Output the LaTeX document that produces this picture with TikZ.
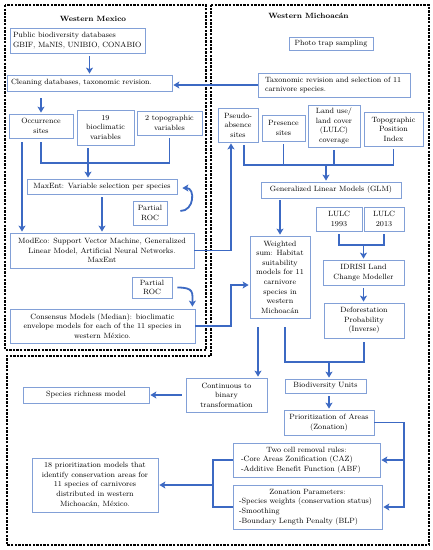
\documentclass[tikz,border=0pt]{standalone}
\usepackage{fontspec}
\usetikzlibrary{arrows.meta}
\definecolor{boxc}{RGB}{130,160,215}
\definecolor{arrc}{RGB}{60,105,195}
\newcommand{\fs}{\fontsize{7.6}{9.6}\selectfont}
\begin{document}
\begin{tikzpicture}[x=1pt,y=-1pt,
 bx/.style={draw=boxc, line width=0.8pt, inner sep=1pt, align=center, font=\fs},
 sz/.style 2 args={minimum width=#1pt, minimum height=#2pt},
 ln/.style={draw=arrc, line width=1.8pt},
 arr/.style={ln, -{Stealth[length=6pt,width=7pt,inset=1.5pt]}, shorten >=1pt},
 frame/.style={draw=black, line width=1.2pt, dash pattern=on 2.4pt off 1.2pt},
 ttl/.style={font=\fs\bfseries, inner sep=0pt}]
\useasboundingbox (0,0) rectangle (432,550);
\fill[white] (0,0) rectangle (432,550);
% frames
\draw[frame] (5,5) rectangle (206,350);
\draw[frame] (211,5) -- (429,5) -- (429,545) -- (7,545) -- (7,356) -- (211,356) -- cycle;
% titles
\node[ttl] (tmex) at (93,19) {Western Mexico};
\node[ttl] (tmich) at (308.5,16) {Western Michoacán};
% Western Mexico
\node[bx, sz={135}{25}, text width=129pt, inner xsep=3pt, align=left] (pub) at (77.5,40.5) {Public biodiversity databases\\GBIF, MaNIS, UNIBIO, CONABIO};
\node[bx, sz={165}{16}, text width=157pt, inner xsep=4pt, align=left] (clean) at (89.5,83) {Cleaning databases, taxonomic revision.};
\node[bx, sz={64}{24}] (occ) at (41,126) {Occurrence\\sites};
\node[bx, sz={57}{35}] (bio) at (105.5,127.5) {19\\bioclimatic\\variables};
\node[bx, sz={65}{24}] (topo) at (169.5,123) {2 topographic\\variables};
\node[bx, sz={150}{15}] (maxent) at (102,186.5) {MaxEnt: Variable selection per species};
\node[bx, sz={34}{24}] (roc1) at (150,213) {Partial\\ROC};
\node[bx, sz={184}{35}] (modeco) at (102,250.5) {ModEco: Support Vector Machine, Generalized\\Linear Model, Artificial Neural Networks.\\MaxEnt};
\node[bx, sz={40}{21}] (roc2) at (152,287.5) {Partial\\ROC};
\node[bx, sz={185}{34}] (cons) at (102.5,326) {Consensus Models (Median): bioclimatic\\envelope models for each of the 11 species in\\western México.};
% Western Michoacan
\node[bx, sz={84}{13}] (photo) at (331,43.5) {Photo trap sampling};
\node[bx, sz={152}{24}, text width=138pt, inner xsep=7pt, align=left] (taxo) at (334,85) {Taxonomic revision and selection of 11\\carnivore species.};
\node[bx, sz={40}{34}] (pseudo) at (238,125) {Pseudo-\\absence\\sites};
\node[bx, sz={43}{26}] (pres) at (283.5,128) {Presence\\sites};
\node[bx, sz={52}{42}] (lulc) at (334,126) {Land use/\\land cover\\(LULC)\\coverage};
\node[bx, sz={59}{34}] (tpi) at (393.5,129) {Topographic\\Position\\Index};
\node[bx, sz={140}{16}] (glm) at (331,190) {Generalized Linear Models (GLM)};
\node[bx, sz={60}{82}] (ws) at (280,277) {Weighted\\sum: Habitat\\suitability\\models for 11\\carnivore\\species in\\western\\Michoacán};
\node[bx, sz={46}{24}] (l93) at (339,219) {LULC\\1993};
\node[bx, sz={40}{24}] (l13) at (384,219) {LULC\\2013};
\node[bx, sz={81}{25}] (idrisi) at (363.5,272.5) {IDRISI Land\\Change Modeller};
\node[bx, sz={80}{35}] (defo) at (364,320.5) {Deforestation\\Probability\\(Inverse)};
\node[bx, sz={81}{34}] (cont) at (226.5,395) {Continuous to\\binary\\transformation};
\node[bx, sz={126}{16}] (rich) at (86,395) {Species richness model};
\node[bx, sz={81}{14}] (bu) at (325.5,386) {Biodiversity Units};
\node[bx, sz={90}{25}] (prio) at (329,422.5) {Prioritization of Areas\\(Zonation)};
\node[bx, sz={147}{34}, text width=131pt, inner xsep=8pt, align=left] (two) at (306.5,460) {\makebox[\linewidth]{Two cell removal rules:}\\-Core Areas Zonification (CAZ)\\-Additive Benefit Function (ABF)};
\node[bx, sz={149}{44}, text width=137pt, inner xsep=6pt, align=left] (zon) at (307.5,507) {\makebox[\linewidth]{Zonation Parameters:}\\-Species weights (conservation status)\\-Smoothing\\-Boundary Length Penalty (BLP)};
\node[bx, sz={126}{54}] (eighteen) at (95,485) {18 prioritization models that\\identify conservation areas for\\11 species of carnivores\\distributed in western\\Michoacán, México.};
% helper coordinates
\coordinate (mj) at (88,163);
\coordinate (pj) at (231,250);
\coordinate (pa) at (244,165);
\coordinate (gj) at (326,165);
\coordinate (wsin) at ([shift={(0,8)}]ws.west);
\coordinate (lj) at (363.5,245);
\coordinate (bj) at (329,362);
\coordinate (wb) at ([shift={(5,0)}]ws.south);
\coordinate (wc) at ([shift={(-22,0)}]ws.south);
\coordinate (rj) at (404,424);
\coordinate (lj2) at (213,485);
\coordinate (oa) at ([shift={(-19,0)}]occ.south);
% connectors
\draw[arr, shorten <=3pt] (clean.north |- pub.south) -- (clean.north);
\draw[arr] (taxo.west) -- (taxo.west -| clean.east);
\draw[arr, shorten <=7pt] (occ.north |- clean.south) -- (occ.north);
\draw[arr, shorten <=4pt] (oa) -- (oa |- modeco.north);
\draw[ln, shorten <=4pt, shorten >=3pt] (occ.south) -- (occ.south |- mj) -- (topo.south |- mj) -- (topo.south);
\draw[ln, shorten <=3pt] (bio.south -| mj) -- (mj);
\draw[arr] (mj) -- (mj |- maxent.north);
\draw[arr, shorten <=3pt] (maxent.south) -- (maxent.south |- modeco.north);
\draw[arr] ([shift={(13,-2)}]roc1.east) .. controls +(14,0) and +(14,0) .. ([shift={(4,1.5)}]maxent.east);
\draw[arr] (modeco.east) -- (modeco.east -| pj) -- (pj |- pseudo.south);
\draw[ln, shorten <=3pt, shorten >=3pt] (pa |- pseudo.south) -- (pa) -- (pa -| tpi.south) -- (tpi.south);
\draw[ln, shorten <=3pt] (pres.south) -- (pres.south |- pa);
\draw[ln, shorten <=3pt] (lulc.south) -- (lulc.south |- pa);
\draw[arr] (gj) -- (gj |- glm.north);
\draw[arr, shorten <=2pt] (glm.south -| ws.north) -- (ws.north);
\draw[arr] (cons.east) -- (cons.east -| pj) -- (pj |- wsin) -- (wsin);
\draw[arr] ([shift={(5,0)}]roc2.east) .. controls +(17,0) and +(0,-15) .. ([shift={(-3,-1)}]cons.north east);
\draw[ln, shorten <=3pt, shorten >=3pt] (l93.south) -- (l93.south |- lj) -- (l13.south |- lj) -- (l13.south);
\draw[arr] (lj) -- (idrisi.north);
\draw[arr, shorten <=3pt] (idrisi.south) -- (idrisi.south |- defo.north);
\draw[ln, shorten <=9pt, shorten >=4pt] (wb) -- (wb |- bj) -- (defo.south |- bj) -- (defo.south);
\draw[arr] (bj) -- (bj |- bu.north);
\draw[arr, shorten <=9pt] (wc) -- (wc |- cont.north);
\draw[arr, shorten <=4pt] (cont.west) -- (rich.east);
\draw[arr, shorten <=3pt] (prio.north |- bu.south) -- (prio.north);
\draw[arr] (prio.east) -- (prio.east -| rj) -- (rj |- zon.east) -- (zon.east);
\draw[arr] (rj |- two.east) -- (two.east);
\draw[ln] (two.west) -- (two.west -| lj2) -- (lj2 |- zon.west) -- (zon.west);
\draw[arr] (lj2) -- (eighteen.east);
\end{tikzpicture}
\end{document}
